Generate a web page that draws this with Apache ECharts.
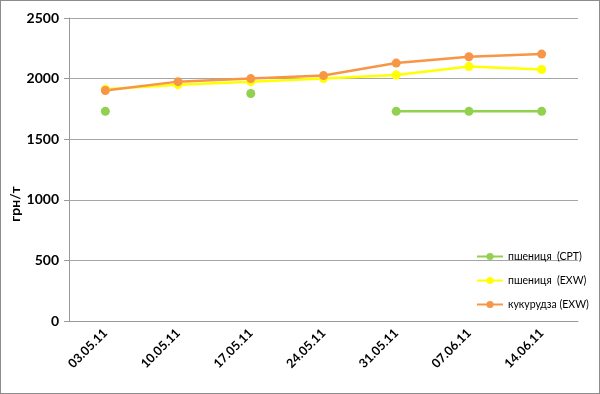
<!DOCTYPE html>
<html><head><meta charset="utf-8">
<script src="https://cdn.jsdelivr.net/npm/echarts@6/dist/echarts.min.js"></script>
<style>html,body{margin:0;padding:0;background:#fff}#c{width:600px;height:394px;box-sizing:border-box;border:1px solid #8c8c8c}</style>
</head><body><div id="c"></div>
<script>
const categories = ['03.05.11','10.05.11','17.05.11','24.05.11','31.05.11','07.06.11','14.06.11'];
const wheatCPT = [1730, null, 1877, null, 1730, 1730, 1730];
const wheatEXW = [1912, 1950, 1975, 2000, 2030, 2100, 2075];
const cornEXW = [1902, 1975, 2000, 2025, 2128, 2180, 2202];
const yTicks = {min: 0, max: 2500, interval: 500};
const yName = 'грн/т';
const names = ['пшениця  (CPT)', 'пшениця  (EXW)', 'кукурудза (EXW)'];
const font = 'Lato, "Open Sans", sans-serif';
const chart = echarts.init(document.getElementById('c'));
function ser(name, data, color) {
  return {name, type: 'line', data, symbol: 'circle', symbolSize: 9,
    itemStyle: {color}, lineStyle: {color, width: 2.5}, connectNulls: false, animation: false};
}
chart.setOption({
  animation: false,
  grid: {left: 68, right: 21, top: 17, bottom: 72, containLabel: false, outerBoundsMode: 'none'},
  graphic: [{type: 'text', x: 14, y: 203, rotation: Math.PI / 2,
    style: {text: yName, fontWeight: 'bold', fontSize: 14, fontFamily: font, fill: '#000', align: 'center', verticalAlign: 'middle'}}],
  legend: {orient: 'vertical', left: 470, top: 245, itemGap: 13, itemWidth: 26, itemHeight: 9,
    textStyle: {fontSize: 10.5, fontFamily: font, color: '#000'}, data: names},
  xAxis: {type: 'category', data: categories, boundaryGap: true,
    axisLine: {lineStyle: {color: '#999'}}, axisTick: {show: false},
    axisLabel: {rotate: 45, fontWeight: 'bold', fontSize: 12.5, fontFamily: font, color: '#000', margin: 10}},
  yAxis: {type: 'value', min: yTicks.min, max: yTicks.max, interval: yTicks.interval,
    axisLine: {show: true, lineStyle: {color: '#999'}}, axisTick: {show: true, length: 5, lineStyle: {color: '#999'}},
    splitLine: {lineStyle: {color: '#a6a6a6'}},
    axisLabel: {fontWeight: 'bold', fontSize: 14, fontFamily: font, color: '#000', margin: 10, formatter: v => String(v)}},
  series: [ser(names[0], wheatCPT, '#92D050'), ser(names[1], wheatEXW, '#FFFF00'), ser(names[2], cornEXW, '#F79646')]
});
</script></body></html>
